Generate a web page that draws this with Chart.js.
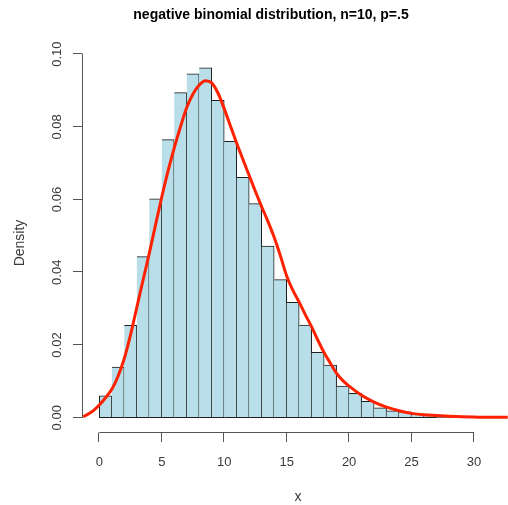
<!DOCTYPE html>
<html>
<head>
<meta charset="utf-8">
<script src="https://cdn.jsdelivr.net/npm/chart.js@4.4.1/dist/chart.umd.min.js"></script>
<style>
  html, body { margin: 0; padding: 0; background: #fff; }
  canvas { display: block; }
</style>
</head>
<body>
<canvas id="histChart" width="508" height="505"></canvas>
<script>
// ── Data ──────────────────────────────────────────────────────────────────────
const TITLE   = 'negative binomial distribution, n=10, p=.5';
const X_LABEL = 'x';
const Y_LABEL = 'Density';

// histogram bins: left edge of each bin, width 1
const BIN_LEFT    = [0, 1, 2, 3, 4, 5, 6, 7, 8, 9, 10, 11, 12, 13, 14, 15, 16, 17, 18, 19, 20, 21, 22, 23, 24, 25, 26, 27, 28];
const BIN_WIDTH   = 1;
const BIN_DENSITY = [0.0060, 0.0139, 0.0254, 0.0443, 0.0602, 0.0765, 0.0894, 0.0946, 0.0962, 0.0873,
                     0.0760, 0.0661, 0.0589, 0.0472, 0.0380, 0.0317, 0.0255, 0.0180, 0.0145, 0.0087,
                     0.0067, 0.0045, 0.0027, 0.0019, 0.0016, 0.0009, 0.0006, 0.0004, 0.0002];

// red density curve
const CURVE_X = [-1.3, -1.0, -0.5, 0, 0.5, 1, 1.5, 2, 2.5, 3, 3.5, 4, 4.5, 5, 5.5, 6, 6.5, 7, 7.5, 8,
                 8.5, 9, 9.5, 10, 10.5, 11, 11.5, 12, 12.5, 13, 13.5, 14, 14.5, 15, 15.5, 16, 16.5, 17,
                 17.5, 18, 18.5, 19, 19.5, 20, 21, 22, 23, 24, 25, 26, 27, 28, 29, 30, 31, 32.7];
const CURVE_Y = [0.0003, 0.0008, 0.0019, 0.0035, 0.0055, 0.0078, 0.0114, 0.0163, 0.0228, 0.0303,
                 0.0378, 0.0452, 0.0530, 0.0607, 0.0678, 0.0742, 0.0800, 0.0853, 0.0890, 0.0915,
                 0.0927, 0.0921, 0.0893, 0.0850, 0.0802, 0.0755, 0.0710, 0.0666, 0.0622, 0.0580,
                 0.0540, 0.0496, 0.0445, 0.0390, 0.0350, 0.0318, 0.0283, 0.0250, 0.0213, 0.0179,
                 0.0150, 0.0122, 0.0102, 0.0087, 0.0062, 0.0043, 0.0029, 0.0019, 0.0012, 0.0008,
                 0.0006, 0.0004, 0.0003, 0.0002, 0.0001, 0.0001];

const X_TICKS = [0, 5, 10, 15, 20, 25, 30];
const Y_TICKS = [0, 0.02, 0.04, 0.06, 0.08, 0.10];
const Y_TICK_LABELS = ['0.00', '0.02', '0.04', '0.06', '0.08', '0.10'];

const X_RANGE = [-1.305, 32.72];
const Y_RANGE = [-0.0042, 0.1003];

// ── Style ─────────────────────────────────────────────────────────────────────
const FONT      = '"Liberation Sans", Arial, Helvetica, sans-serif';
const BAR_FILL  = '#b7dee9';
const BAR_EDGE  = '#1e1e1e';
const CURVE_COL = '#ff2200';
const AXIS_COL  = '#555555';
const TEXT_COL  = '#3a3a3a';

// ── R-style axes, labels and title ────────────────────────────────────────────
const rAxes = {
  id: 'rAxes',
  afterDraw(chart) {
    const { ctx, chartArea: area, scales: { x, y } } = chart;
    const tick = 9.5;
    ctx.save();
    ctx.strokeStyle = AXIS_COL;
    ctx.lineWidth = 1;

    // x axis: line spans first..last tick
    const ax = Math.round(area.bottom) - 0.5;
    ctx.beginPath();
    ctx.moveTo(x.getPixelForValue(X_TICKS[0]), ax);
    ctx.lineTo(x.getPixelForValue(X_TICKS[X_TICKS.length - 1]), ax);
    X_TICKS.forEach(v => {
      const px = Math.round(x.getPixelForValue(v)) - 0.5;
      ctx.moveTo(px, ax);
      ctx.lineTo(px, ax + tick);
    });
    ctx.stroke();

    // y axis
    const ay = Math.round(area.left) - 0.5;
    ctx.beginPath();
    ctx.moveTo(ay, y.getPixelForValue(Y_TICKS[0]));
    ctx.lineTo(ay, y.getPixelForValue(Y_TICKS[Y_TICKS.length - 1]));
    Y_TICKS.forEach(v => {
      const py = Math.round(y.getPixelForValue(v)) - 0.5;
      ctx.moveTo(ay, py);
      ctx.lineTo(ay - tick, py);
    });
    ctx.stroke();

    // tick labels
    ctx.fillStyle = TEXT_COL;
    ctx.font = `13px ${FONT}`;
    ctx.textAlign = 'center';
    ctx.textBaseline = 'middle';
    X_TICKS.forEach(v => ctx.fillText(String(v), x.getPixelForValue(v), area.bottom + 29));
    Y_TICKS.forEach((v, i) => {
      ctx.save();
      ctx.translate(area.left - 26, y.getPixelForValue(v));
      ctx.rotate(-Math.PI / 2);
      ctx.fillText(Y_TICK_LABELS[i], 0, 0);
      ctx.restore();
    });

    // axis titles
    ctx.font = `14px ${FONT}`;
    ctx.fillText(X_LABEL, 298, 497);
    ctx.save();
    ctx.translate(20, (area.top + area.bottom) / 2);
    ctx.rotate(-Math.PI / 2);
    ctx.fillText(Y_LABEL, 0, 0);
    ctx.restore();

    // main title
    ctx.fillStyle = '#000';
    ctx.font = `bold 14px ${FONT}`;
    ctx.fillText(TITLE, 271, 15);
    ctx.restore();
  }
};

// ── Chart ─────────────────────────────────────────────────────────────────────
const chart = new Chart(document.getElementById('histChart').getContext('2d'), {
  type: 'bar',
  data: {
    datasets: [
      {
        type: 'line',
        order: 0,
        data: CURVE_X.map((v, i) => ({ x: v, y: CURVE_Y[i] })),
        borderColor: CURVE_COL,
        borderWidth: 3,
        pointRadius: 0,
        fill: false,
        cubicInterpolationMode: 'monotone',
      },
      {
        type: 'bar',
        order: 1,
        data: BIN_LEFT.map((b, i) => ({ x: b + BIN_WIDTH / 2, y: BIN_DENSITY[i] })),
        backgroundColor: BAR_FILL,
        borderColor: BAR_EDGE,
        borderSkipped: false,
        borderWidth: c => ({ top: 1, right: 1, bottom: 1, left: c.dataIndex === 0 ? 1 : 0 }),
        barPercentage: 1,
        categoryPercentage: 1,
      },
    ],
  },
  options: {
    responsive: false,
    devicePixelRatio: 1,
    animation: false,
    layout: { padding: { left: 83, right: 0, top: 53, bottom: 72 } },
    plugins: { legend: { display: false }, tooltip: { enabled: false }, title: { display: false } },
    scales: {
      x: { type: 'linear', offset: false, min: X_RANGE[0], max: X_RANGE[1], display: false },
      y: { type: 'linear', min: Y_RANGE[0], max: Y_RANGE[1], display: false },
    },
  },
  plugins: [rAxes],
});
</script>
</body>
</html>
